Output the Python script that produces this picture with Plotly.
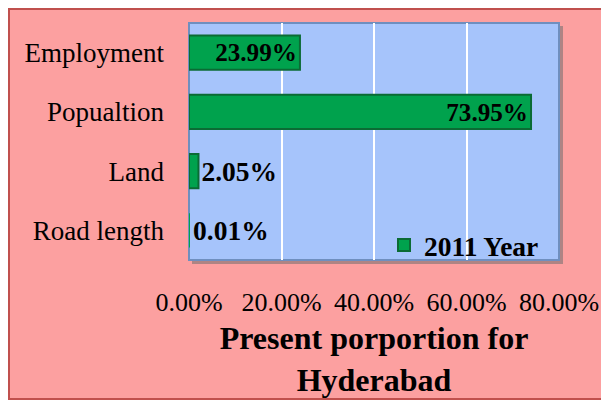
import plotly.graph_objects as go

categories = ["Employment", "Popualtion", "Land", "Road length"]
values = [0.2399, 0.7395, 0.0205, 0.0001]
labels = ["23.99%", "73.95%", "2.05%", "0.01%"]
series_name = "2011 Year"
x_ticks = [0, 0.2, 0.4, 0.6, 0.8]
x_tick_text = ["0.00%", "20.00%", "40.00%", "60.00%", "80.00%"]
axis_title = "Present porportion for<br>Hyderabad"

OFF = 8  # page body margin
W, H = 609 - OFF, 401 - OFF
L, R, T, B = 189 - OFF, 50, 23 - OFF, 141
pw, ph = W - L - R, H - T - B


def px(sx):
    return (sx - OFF - L) / pw


def py(sy):
    return (H - B - (sy - OFF)) / ph


serif = "Liberation Serif, Times New Roman, serif"

fig = go.Figure()
fig.add_trace(go.Bar(
    y=categories, x=values, orientation="h", name=series_name,
    text=labels, textposition=["inside", "inside", "outside", "outside"],
    insidetextanchor="end",
    textfont=dict(family=serif, size=27.5, color="black", weight="bold"),
    marker=dict(color="#00A24D",
                line=dict(color="#0B6B34", width=[2, 2, 2, 0])),
    cliponaxis=False,
    showlegend=True,
))

shapes = [
    # outer chart box
    dict(type="rect", xref="paper", yref="paper", layer="below",
         x0=px(9), x1=px(640), y0=py(399), y1=py(9),
         fillcolor="#FCA0A0", line=dict(color="#C0504D", width=2)),
    # plot-area shadow
    dict(type="rect", xref="paper", yref="paper", layer="below",
         x0=px(192), x1=px(563), y0=py(264), y1=py(26),
         fillcolor="rgba(110,110,110,0.55)", line=dict(width=0)),
    # plot area
    dict(type="rect", xref="paper", yref="paper", layer="below",
         x0=0, x1=1, y0=0, y1=1,
         fillcolor="#A6C4FB", line=dict(color="#6F8FBF", width=2)),
]

fig.update_layout(
    width=W, height=H,
    margin=dict(l=L, r=R, t=T, b=B, pad=0, autoexpand=False),
    paper_bgcolor="white",
    plot_bgcolor="rgba(0,0,0,0)",
    bargap=0.42,
    shapes=shapes,
    font=dict(family=serif, color="black"),
    xaxis=dict(
        range=[0, 0.8], tickvals=x_ticks, ticktext=x_tick_text,
        showgrid=True, gridcolor="white", gridwidth=1.5,
        zeroline=False, showline=False, automargin=False,
        tickfont=dict(family=serif, size=26, color="black"),
        ticklabelstandoff=24,
        title=dict(text=axis_title, standoff=10,
                   font=dict(family=serif, size=32, color="black", weight="bold")),
    ),
    yaxis=dict(
        autorange="reversed", showgrid=False, zeroline=False, showline=False,
        automargin=False,
        tickfont=dict(family=serif, size=27, color="black"),
        ticklabelstandoff=24,
    ),
    legend=dict(
        x=px(384), y=py(245), xanchor="left", yanchor="middle",
        bgcolor="rgba(0,0,0,0)",
        font=dict(family=serif, size=27.5, color="black", weight="bold"),
    ),
)

fig.write_html("out.html")
